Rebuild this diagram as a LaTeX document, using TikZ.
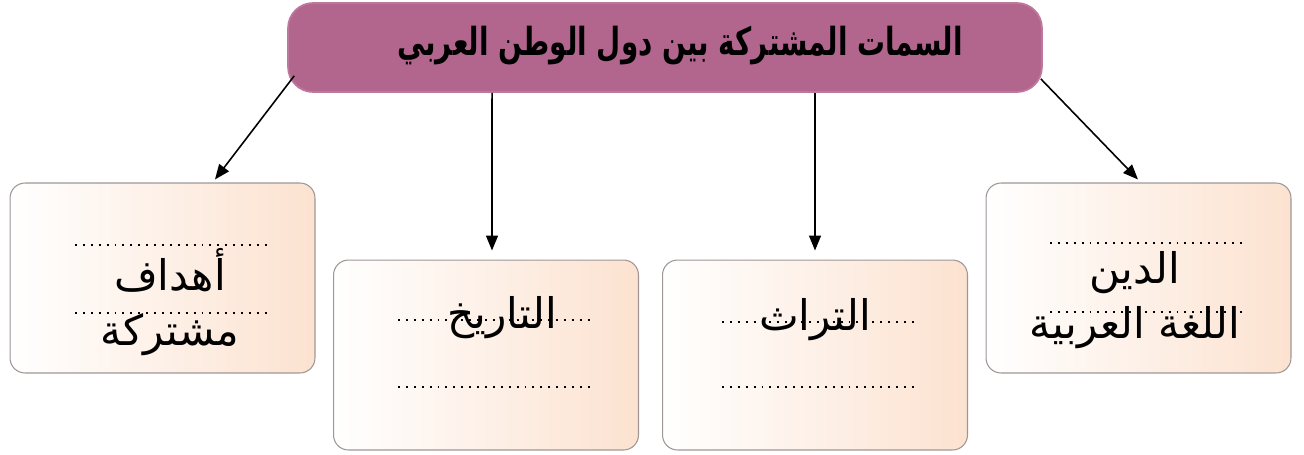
\documentclass[tikz,border=0pt]{standalone}
\usepackage{fontspec}
\usepackage{xcolor}
\usepackage{tikz}
\usetikzlibrary{shapes.geometric, positioning, arrows.meta}
\TeXXeTstate=1
\newfontfamily\arabicfont[Script=Arabic]{DejaVu Sans}
\newfontfamily\arabicnarrow[Script=Arabic, FakeStretch=0.72]{DejaVu Sans}
\definecolor{mauve}{RGB}{178,102,142}
\definecolor{mauveline}{RGB}{190,120,155}
\definecolor{peach}{RGB}{252,226,208}
\definecolor{boxline}{RGB}{160,150,150}
\tikzstyle{title} = [rectangle, rounded corners=0.5cm, minimum width=15.08cm, minimum height=1.78cm, fill=mauve, draw=mauveline, line width=1pt]
\tikzstyle{topic} = [rectangle, rounded corners=0.3cm, minimum width=6.1cm, minimum height=3.8cm, left color=white, right color=peach, draw=boxline, line width=0.6pt]
\tikzstyle{word} = [text=black, align=center, font=\arabicfont\fontsize{24}{31}\selectfont]
\tikzstyle{dots} = [line width=1.1pt, dash pattern=on 1.1pt off 3.4pt, black]
\tikzstyle{arrow} = [-{Triangle[length=0.3cm, width=0.24cm]}, line width=0.9pt, black]

\begin{document}
\begin{tikzpicture}[x=0.02cm, y=-0.02cm]
		\useasboundingbox (0,0) rectangle (1304,454);
		\node (Title)[title] at (665,47.5) {};
		\node (Title Text)[text=black, font=\arabicnarrow\bfseries\fontsize{22}{24}\selectfont] at (680,46) {\beginR السمات المشتركة بين دول الوطن العربي\endR};
		\node (Goals)[topic] at (162.5,278) {};
		\node (History)[topic] at (486,355) {};
		\node (Heritage)[topic] at (815,355) {};
		\node (Religion)[topic] at (1138.5,278) {};
		% dotted lines
		\draw [dots] (75,245) -- (272,245);
		\draw [dots] (75,313) -- (272,313);
		\draw [dots] (398,320) -- (595,320);
		\draw [dots] (398,387) -- (595,387);
		\draw [dots] (722,322) -- (918,322);
		\draw [dots] (722,387) -- (918,387);
		\draw [dots] (1050,243) -- (1247,243);
		\draw [dots] (1050,312) -- (1247,312);
		% words
		\node (Goals Text)[word] at (170,302) {\beginR أهداف\endR\\\beginR مشتركة\endR};
		\node (History Text)[word] at (502,318) {\beginR التاريخ\endR};
		\node (Heritage Text)[word] at (815,320) {\beginR التراث\endR};
		\node (Religion Text)[word] at (1135,300) {\beginR الدين\endR\\\beginR اللغة العربية\endR};
		\draw [arrow] ([xshift=0.14cm, yshift=0.34cm]Title.south west) -- ([xshift=1.05cm, yshift=0.06cm]Goals.north);
		\draw [arrow] ([xshift=-3.46cm]Title.south) -- ([xshift=0.12cm, yshift=0.18cm]History.north);
		\draw [arrow] (Title.south -| Heritage.north) -- ([yshift=0.18cm]Heritage.north);
		\draw [arrow] ([xshift=-0.04cm, yshift=0.28cm]Title.south east) -- ([xshift=-0.01cm, yshift=0.06cm]Religion.north);
	\end{tikzpicture}
\end{document}
